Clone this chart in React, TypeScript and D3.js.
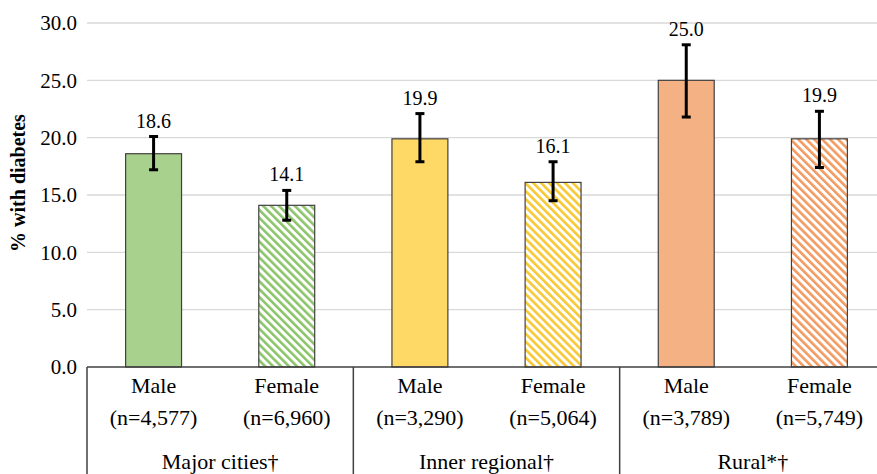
import React from "react";
import * as d3 from "d3";

// Prevalence of diabetes by remoteness and sex
const groups = ["Major cities†", "Inner regional†", "Rural*†"];
const sexes = ["Male", "Female"];
const sampleSizes = ["(n=4,577)", "(n=6,960)", "(n=3,290)", "(n=5,064)", "(n=3,789)", "(n=5,749)"];
const values = [18.6, 14.1, 19.9, 16.1, 25.0, 19.9];
const lower = [17.2, 12.8, 17.9, 14.5, 21.8, 17.4];
const upper = [20.1, 15.4, 22.1, 17.9, 28.1, 22.3];
const yTicks = [0, 5, 10, 15, 20, 25, 30];
const groupColors = ["#A9D18E", "#FFD966", "#F4B183"];
const stripeColors = ["#8CC46A", "#F7C831", "#F29A5F"];

const W = 877;
const H = 474;
const left = 87;
const right = 886;
const top = 23;
const bottom = 367;

export default function App() {
  const keys = values.map((_, i) => `b${i}`);
  const x = d3.scaleBand<string>().domain(keys).range([left, right]).padding(0);
  const xGroup = d3.scaleBand<string>().domain(groups).range([left, right]).padding(0);
  const y = d3.scaleLinear().domain([0, 30]).range([bottom, top]);
  const barW = x.bandwidth() * 0.42;
  const font = "Liberation Serif, Times New Roman, serif";

  return (
    <svg
      width={W}
      height={H}
      style={{ position: "absolute", left: 0, top: 0, background: "#fff" }}
      fontFamily={font}
    >
      <defs>
        {groupColors.map((c, g) => (
          <pattern
            key={g}
            id={`hatch${g}`}
            patternUnits="userSpaceOnUse"
            width={5.6}
            height={5.6}
            patternTransform="rotate(-45)"
          >
            <rect width={5.6} height={5.6} fill="#fff" />
            <rect width={2.6} height={5.6} fill={stripeColors[g]} />
          </pattern>
        ))}
      </defs>

      {/* gridlines */}
      {yTicks.slice(1).map((t) => (
        <line key={t} x1={left} x2={W} y1={y(t)} y2={y(t)} stroke="#d9d9d9" strokeWidth={1.3} />
      ))}

      {/* y tick labels */}
      {yTicks.map((t) => (
        <text key={t} x={77} y={y(t)} dy="0.35em" textAnchor="end" fontSize={21} fill="#000">
          {t.toFixed(1)}
        </text>
      ))}

      {/* y axis title */}
      <text
        transform={`translate(25,183) rotate(-90)`}
        textAnchor="middle"
        fontSize={20}
        fontWeight="bold"
        fill="#000"
      >
        % with diabetes
      </text>

      {/* bars */}
      {values.map((v, i) => {
        const g = Math.floor(i / 2);
        const cx = (x(keys[i]) as number) + x.bandwidth() / 2;
        const fill = i % 2 === 0 ? groupColors[g] : `url(#hatch${g})`;
        return (
          <rect
            key={i}
            x={cx - barW / 2}
            y={y(v)}
            width={barW}
            height={y(0) - y(v)}
            fill={fill}
            stroke="#404040"
            strokeWidth={1.2}
          />
        );
      })}

      {/* error bars and value labels */}
      {values.map((v, i) => {
        const cx = (x(keys[i]) as number) + x.bandwidth() / 2;
        return (
          <g key={i}>
            <line x1={cx} x2={cx} y1={y(lower[i])} y2={y(upper[i])} stroke="#000" strokeWidth={3} />
            <line x1={cx - 4.5} x2={cx + 4.5} y1={y(upper[i])} y2={y(upper[i])} stroke="#000" strokeWidth={3} />
            <line x1={cx - 4.5} x2={cx + 4.5} y1={y(lower[i])} y2={y(lower[i])} stroke="#000" strokeWidth={3} />
            <text x={cx} y={y(upper[i]) - 9} textAnchor="middle" fontSize={20} fill="#000">
              {v.toFixed(1)}
            </text>
          </g>
        );
      })}

      {/* category axis frame */}
      <line x1={left} x2={W} y1={bottom} y2={bottom} stroke="#404040" strokeWidth={1.5} />
      {groups.map((gname) => (
        <line
          key={gname}
          x1={xGroup(gname) as number}
          x2={xGroup(gname) as number}
          y1={bottom}
          y2={H}
          stroke="#404040"
          strokeWidth={1.5}
        />
      ))}

      {/* category labels */}
      {values.map((_, i) => {
        const cx = (x(keys[i]) as number) + x.bandwidth() / 2;
        return (
          <g key={i} fill="#000">
            <text x={cx} y={393} textAnchor="middle" fontSize={22}>{sexes[i % 2]}</text>
            <text x={cx} y={425} textAnchor="middle" fontSize={22}>{sampleSizes[i]}</text>
          </g>
        );
      })}
      {groups.map((gname) => (
        <text
          key={gname}
          x={(xGroup(gname) as number) + xGroup.bandwidth() / 2}
          y={469}
          textAnchor="middle"
          fontSize={22}
          fill="#000"
        >
          {gname}
        </text>
      ))}
    </svg>
  );
}
